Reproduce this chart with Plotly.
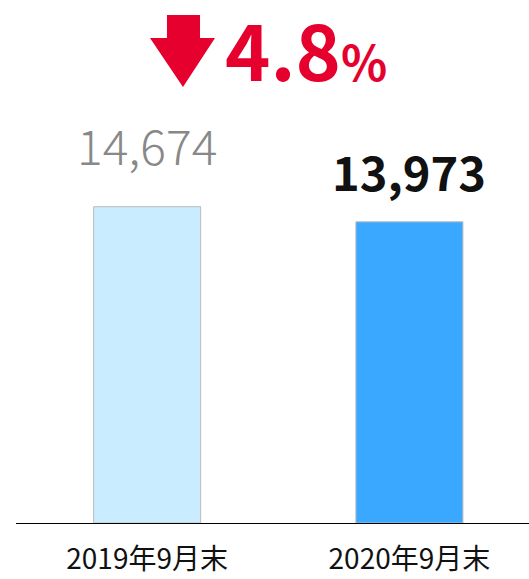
import plotly.graph_objects as go

categories = ["2019年9月末", "2020年9月末"]
values = [14674, 13973]
value_labels = ["14,674", "13,973"]
change_text = "4.8"

W, H = 529, 579
ML, MR, MT, MB = 16, 0, 0, 56
pw, ph = W - ML - MR, H - MT - MB

def px2paper(x, y):
    return (x - ML) / pw, (H - MB - y) / ph

fig = go.Figure()
fig.add_trace(go.Bar(
    x=categories, y=values, width=0.408,
    marker=dict(color=["#c9ecff", "#3aa8ff"], line=dict(color="#bbbbbb", width=1)),
    hoverinfo="skip",
))

FONT = "Noto Sans CJK JP"
fig.add_annotation(x=categories[0], y=values[0], xref="x", yref="y", text=value_labels[0],
                   showarrow=False, yanchor="bottom", yshift=26,
                   font=dict(family=FONT, size=48, color="#888888", weight=200))
fig.add_annotation(x=categories[1], y=values[1], xref="x", yref="y", text="<b>" + value_labels[1] + "</b>",
                   showarrow=False, yanchor="bottom", yshift=15,
                   font=dict(family=FONT, size=47, color="#111111"))

# percent change
x0, y0 = px2paper(223, 48)
fig.add_annotation(x=x0, y=y0, xref="paper", yref="paper", xanchor="left", yanchor="middle",
                   text="<b>" + change_text + "<span style='font-size:48px'>%</span></b>",
                   showarrow=False, font=dict(family=FONT, size=77, color="#e6002e"))

# down arrow
pts = [(167, 15), (200, 15), (200, 38), (215, 38), (183, 87), (150, 38), (167, 38)]
path = "M " + " L ".join(f"{px2paper(a, b)[0]:.4f},{px2paper(a, b)[1]:.4f}" for a, b in pts) + " Z"
fig.add_shape(type="path", xref="paper", yref="paper", path=path,
              fillcolor="#e6002e", line=dict(width=0))

fig.update_layout(
    width=W, height=H, margin=dict(l=ML, r=MR, t=MT, b=MB),
    plot_bgcolor="white", paper_bgcolor="white", showlegend=False,
    xaxis=dict(range=[-0.5, 1.456], showline=True, linecolor="black", linewidth=1,
               ticks="outside", ticklen=11, tickcolor="rgba(0,0,0,0)", automargin=False,
               tickfont=dict(family=FONT, size=28, color="#111111"), fixedrange=True),
    yaxis=dict(range=[0, 24263], visible=False, showgrid=False, zeroline=False, automargin=False),
)
fig.write_html("out.html")
